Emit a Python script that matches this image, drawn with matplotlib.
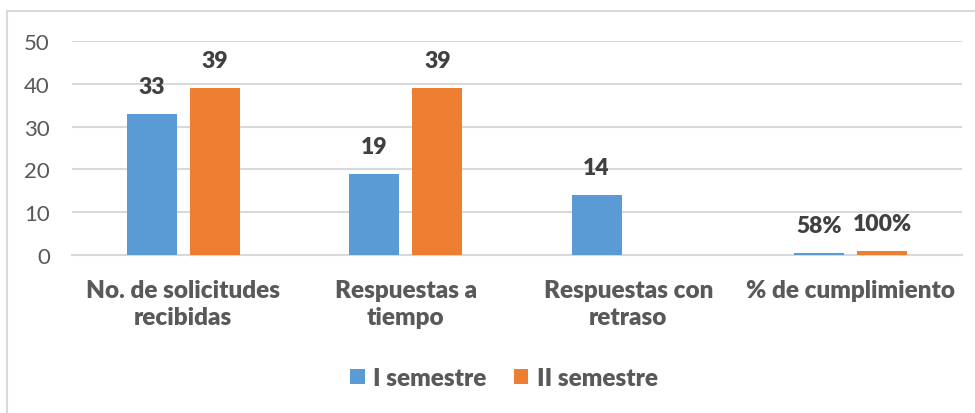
import matplotlib
matplotlib.use('Agg')
import matplotlib.pyplot as plt
from matplotlib.patches import Rectangle
import numpy as np

# Datos de solicitudes por semestre
categorias = ["No. de solicitudes\nrecibidas", "Respuestas a\ntiempo",
              "Respuestas con\nretraso", "% de cumplimiento"]
semestre_1 = [33, 19, 14, 0.58]
semestre_2 = [39, 39, np.nan, 1.00]
etiquetas_1 = ["33", "19", "14", "58%"]
etiquetas_2 = ["39", "39", "", "100%"]

AZUL = '#5B9BD5'
NARANJA = '#ED7D31'
GRIS_TEXTO = '#595959'
GRIS_LINEA = '#D9D9D9'

plt.rcParams['font.family'] = ['Lato', 'DejaVu Sans']

fig = plt.figure(figsize=(9.75, 4.14), dpi=100)
ax = fig.add_axes([72 / 975, 1 - 256 / 414, 890 / 975, 214 / 414])

# Marco del gráfico
fig.patches.append(Rectangle((7 / 975, -0.1), 1.2, 1 - 12 / 414 + 0.1,
                             transform=fig.transFigure, fill=False,
                             edgecolor=GRIS_LINEA, linewidth=1.5))

x = np.arange(len(categorias))
ancho = 0.225
sep = 0.1425

barras_1 = ax.bar(x - sep, semestre_1, ancho, color=AZUL, label="I semestre", zorder=3)
barras_2 = ax.bar(x + sep, semestre_2, ancho, color=NARANJA, label="II semestre", zorder=3)

# Etiquetas de valor sobre las barras
for barras, etiquetas in ((barras_1, etiquetas_1), (barras_2, etiquetas_2)):
    for bar, texto in zip(barras, etiquetas):
        if not texto:
            continue
        ax.annotate(texto, (bar.get_x() + bar.get_width() / 2, bar.get_height()),
                    xytext=(0, 12), textcoords='offset points',
                    ha='center', va='bottom', fontsize=16.5, fontweight='heavy',
                    color='#404040')

ax.set_xlim(-0.5, len(categorias) - 0.5)
ax.set_ylim(0, 50)
ax.set_yticks(range(0, 51, 10))
ax.yaxis.grid(True, color=GRIS_LINEA, linewidth=1.5, zorder=0)
ax.set_axisbelow(True)

for lado in ('top', 'right', 'left'):
    ax.spines[lado].set_visible(False)
ax.spines['bottom'].set_color(GRIS_LINEA)
ax.spines['bottom'].set_linewidth(1.5)

ax.tick_params(axis='y', length=0, pad=16, labelsize=16, labelcolor=GRIS_TEXTO)
ax.tick_params(axis='x', length=0, pad=17, labelsize=17.5, labelcolor=GRIS_TEXTO)
ax.set_xticks(x)
ax.set_xticklabels(categorias, fontweight='heavy', linespacing=1.3)

fig.legend(loc='center', bbox_to_anchor=(504 / 975, 1 - 379 / 414), ncol=2,
           frameon=False, prop={'size': 17.5, 'weight': 'heavy'},
           labelcolor=GRIS_TEXTO, handlelength=0.6, handleheight=0.6,
           handletextpad=0.35, columnspacing=1.1)

fig.savefig('out.png', dpi=100)
